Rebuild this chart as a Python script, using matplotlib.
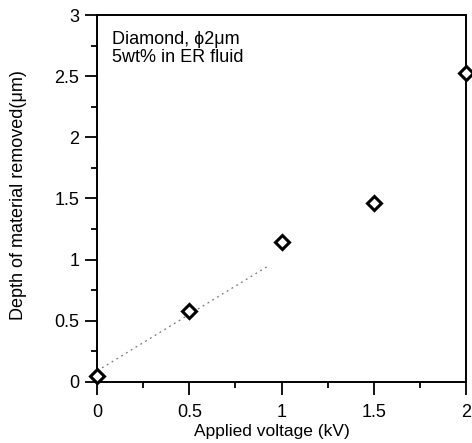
import matplotlib.pyplot as plt
import numpy as np
from matplotlib.ticker import MultipleLocator

plt.rcParams['font.family'] = ['Liberation Sans', 'DejaVu Sans']

voltage = [0, 0.5, 1.0, 1.5, 2.0]
depth = [0.05, 0.58, 1.14, 1.46, 2.53]
# dotted trend line (start / end)
fit_x = [0.0, 0.93]
fit_y = [0.09, 0.95]
xtick_vals = [0, 0.5, 1, 1.5, 2]
xtick_labels = ['0', '0.5', '1', '1.5', '2']
ytick_vals = [0, 0.5, 1, 1.5, 2, 2.5, 3]
ytick_labels = ['0', '0.5', '1', '1.5', '2', '2.5', '3']

fig = plt.figure(figsize=(4.72, 4.43), dpi=100)
ax = fig.add_axes([0.206, 0.138, 0.781, 0.828])

ax.plot(fit_x, fit_y, linestyle=(0, (1.5, 3)), color='#777777', linewidth=0.9)
ax.plot(voltage, depth, linestyle='none', marker='D', markersize=7,
        markerfacecolor='white', markeredgecolor='black', markeredgewidth=2.2,
        clip_on=False, zorder=5)

ax.set_xlim(0, 2)
ax.set_ylim(0, 3)
ax.set_xticks(xtick_vals)
ax.set_xticklabels(xtick_labels)
ax.set_yticks(ytick_vals)
ax.set_yticklabels(ytick_labels)
ax.xaxis.set_minor_locator(MultipleLocator(0.25))
ax.yaxis.set_minor_locator(MultipleLocator(0.25))
ax.tick_params(which='major', direction='out', length=9, width=1.3, labelsize=13)
ax.tick_params(which='minor', direction='out', length=4, width=1.3)
ax.tick_params(axis='x', pad=7)
ax.tick_params(axis='y', pad=4)
for s in ax.spines.values():
    s.set_linewidth(1.4)

ax.set_xlabel('Applied voltage (kV)', fontsize=12.5)
ax.set_ylabel('Depth of material removed(\u03bcm)', fontsize=13)
ax.xaxis.set_label_coords(0.473, -0.115)
ax.yaxis.set_label_coords(-0.19, 0.51)

ax.text(0.041, 0.957, 'Diamond, \u03d52\u03bcm\n5wt% in ER fluid', transform=ax.transAxes,
        fontsize=13, va='top', ha='left', linespacing=1.1)

fig.savefig('out.png', dpi=100)
